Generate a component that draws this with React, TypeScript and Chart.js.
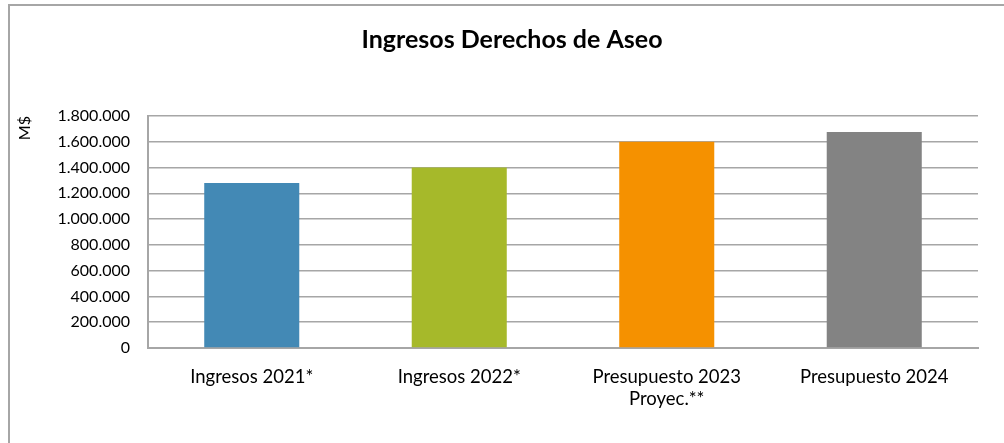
import React, { useEffect, useRef } from "react";
import { Chart, registerables } from "chart.js";

Chart.register(...registerables);

const categories: (string | string[])[] = [
  "Ingresos 2021*",
  "Ingresos 2022*",
  ["Presupuesto 2023", "Proyec.**"],
  "Presupuesto 2024",
];
const values = [1280000, 1400000, 1600000, 1675000];
const barColors = ["#4389B5", "#A6B92A", "#F59100", "#838383"];
const titleText = "Ingresos Derechos de Aseo";
const yAxisTitle = "M$";
const yMin = 0;
const yMax = 1800000;
const yStep = 200000;

const fmt = (v: number) => String(Math.round(v)).replace(/\B(?=(\d{3})+(?!\d))/g, ".");

const framePlugin = {
  id: "frame",
  beforeDraw(chart: any) {
    const { ctx, width, height } = chart;
    ctx.save();
    ctx.fillStyle = "#ffffff";
    ctx.fillRect(0, 0, width, height);
    ctx.strokeStyle = "#a6a6a6";
    ctx.lineWidth = 2;
    ctx.beginPath();
    ctx.moveTo(9, height);
    ctx.lineTo(9, 5);
    ctx.lineTo(width, 5);
    ctx.stroke();
    ctx.restore();
  },
  afterDraw(chart: any) {
    const { ctx, width } = chart;
    ctx.save();
    ctx.fillStyle = "#000";
    ctx.font = "bold 25px Lato";
    ctx.textAlign = "center";
    ctx.textBaseline = "middle";
    ctx.fillText(titleText, width / 2 + 10, 40);
    ctx.restore();
  },
};

export default function App() {
  const ref = useRef<HTMLCanvasElement | null>(null);
  useEffect(() => {
    if (!ref.current) return;
    const chart = new Chart(ref.current, {
      type: "bar",
      data: {
        labels: categories,
        datasets: [
          {
            data: values,
            backgroundColor: barColors,
            barPercentage: 0.458,
            categoryPercentage: 1,
          },
        ],
      },
      options: {
        responsive: false,
        animation: false,
        layout: { padding: { top: 116, left: 0, right: 26, bottom: 0 } },
        plugins: {
          legend: { display: false },
          tooltip: { enabled: false },
          title: { display: false },
        },
        scales: {
          x: {
            grid: { display: false, drawTicks: false },
            border: { color: "#a6a6a6", width: 2 },
            ticks: {
              color: "#000",
              font: { family: "Lato", size: 18.5 },
              padding: 18,
              maxRotation: 0,
              autoSkip: false,
            },
            afterFit: (s: any) => {
              s.height = 95;
            },
          },
          y: {
            min: yMin,
            max: yMax,
            grid: { color: "#a6a6a6", lineWidth: 1.5, drawTicks: false },
            border: { color: "#a6a6a6", width: 2 },
            ticks: {
              stepSize: yStep,
              color: "#000",
              font: { family: "Lato", size: 16 },
              padding: 18,
              callback: (v: any) => fmt(Number(v)),
            },
            title: {
              display: true,
              text: yAxisTitle,
              align: "end",
              color: "#000",
              font: { family: "Lato", size: 16 },
              padding: { top: 15, bottom: 0 },
            },
            afterFit: (s: any) => {
              s.width = 148;
            },
          },
        },
      },
      plugins: [framePlugin],
    });
    return () => chart.destroy();
  }, []);
  return (
    <div style={{ position: "absolute", left: 0, top: 0, width: 1004, height: 443 }}>
      <canvas ref={ref} width={1004} height={443} />
    </div>
  );
}
